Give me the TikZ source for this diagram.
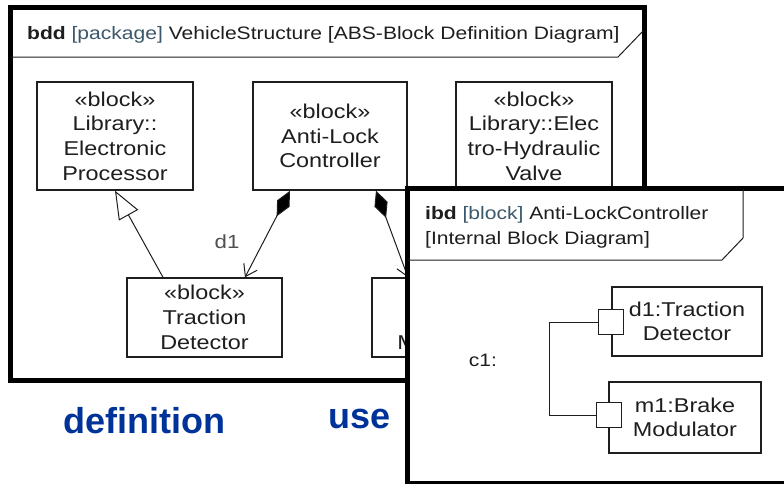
\documentclass[tikz,border=0pt]{standalone}
\usepackage{fontspec}
\setmainfont[FakeStretch=1.17]{Liberation Sans}
\newfontfamily\plainsans{Liberation Sans}
\usetikzlibrary{arrows.meta}
\definecolor{txt}{RGB}{30,30,30}
\definecolor{bracketc}{RGB}{60,88,108}
\definecolor{labelblue}{RGB}{0,51,153}
\definecolor{grayt}{RGB}{80,80,80}
\tikzset{
  blockbox/.style={draw=txt, line width=1.4pt, fill=white, align=center, inner sep=0pt,
    text=txt, font=\fontsize{20}{24.7}\selectfont},
  partbox/.style={draw=txt, line width=1.4pt, fill=white, align=center, inner sep=0pt,
    text=txt, font=\fontsize{20}{24}\selectfont},
  portbox/.style={draw=txt, line width=1.4pt, fill=white, minimum size=25pt, inner sep=0pt},
  thinline/.style={draw=txt, line width=1pt},
  comp/.style={thinline, {Diamond[length=29pt,width=14pt,fill=black]}-{Straight Barb[length=11pt,width=15pt]}},
  gen/.style={thinline, -{Triangle[open,length=28pt,width=22pt,fill=white]}},
  hdr/.style={text=txt, font=\fontsize{18}{25}\selectfont, inner sep=0pt},
  biglabel/.style={text=labelblue, font=\plainsans\bfseries\fontsize{36}{40}\selectfont, inner sep=0pt}
}
\begin{document}
\begin{tikzpicture}[x=1pt,y=-1pt]
\useasboundingbox (0,0) rectangle (784,485);
\fill[white] (0,0) rectangle (784,485);
\clip (0,0) rectangle (784,485);
% bdd frame
\draw[line width=4.5pt, black] (10.5,7.5) rectangle (644.5,380.5);
\draw[thinline] (10.5,57) -- (618,57) -- (643,31);
\node[hdr, anchor=base west] (bddtitle) at (27,39) {\textbf{bdd} \textcolor{bracketc}{[package]} VehicleStructure [ABS-Block Definition Diagram]};
% blocks
\node[blockbox, minimum width=156pt, minimum height=108pt] (ep) at (115,136) {«block»\\Library::\\Electronic\\Processor};
\node[blockbox, minimum width=154pt, minimum height=108pt] (alc) at (330,136) {«block»\\Anti-Lock\\Controller};
\node[blockbox, minimum width=156pt, minimum height=108pt] (ehv) at (534,136) {«block»\\Library::Elec\\tro-Hydraulic\\Valve};
\node[blockbox, minimum width=155pt, minimum height=79pt] (td) at (204.5,317.5) {«block»\\Traction\\Detector};
\node[blockbox, minimum width=155pt, minimum height=79pt] (bm) at (449.5,317.5) {«block»\\Brake\\Modulator};
% connectors
\draw[gen] ([xshift=-41.5pt]td.north) -- (ep.south);
\draw[comp] ([xshift=-40pt]alc.south) -- ([xshift=40.5pt]td.north);
\draw[comp] ([xshift=46pt]alc.south) -- ([xshift=-41.5pt]bm.north);
\node[text=grayt, font=\fontsize{19}{22}\selectfont, inner sep=0pt] (d1lbl) at (227,242) {d1};
% labels
\node[biglabel, anchor=base west] (defl) at (63,433) {definition};
\node[biglabel, anchor=base west] (usel) at (328,428) {use};
% ibd frame
\fill[white] (407.5,188.5) rectangle (800,482.5);
\draw[line width=3pt, black] (407.5,482.5) -- (800,482.5);
\draw[line width=4.5pt, black] (407.5,484) -- (407.5,188.5) -- (800,188.5);
\draw[thinline] (407.5,260) -- (722,260) -- (743,238) -- (743,188.5);
\node[hdr, anchor=base west] (ibdt1) at (425,219) {\textbf{ibd} \textcolor{bracketc}{[block]} Anti-LockController};
\node[hdr, anchor=base west] (ibdt2) at (425,244) {[Internal Block Diagram]};
% parts
\node[partbox, minimum width=150pt, minimum height=69pt] (d1p) at (687,321.5) {d1:Traction\\Detector};
\node[partbox, minimum width=152pt, minimum height=71pt] (m1p) at (685,417.5) {m1:Brake\\Modulator};
\node[portbox] (p1) at (611,322) {};
\node[portbox] (p2) at (609,415) {};
\coordinate (bendA) at (549,322);
\coordinate (bendB) at (549,415);
\draw[thinline] (p1.west) -- (bendA) -- (bendB) -- (p2.west);
\node[text=txt, font=\fontsize{18}{22}\selectfont, inner sep=0pt] (c1lbl) at (483,360) {c1:};
\end{tikzpicture}
\end{document}
